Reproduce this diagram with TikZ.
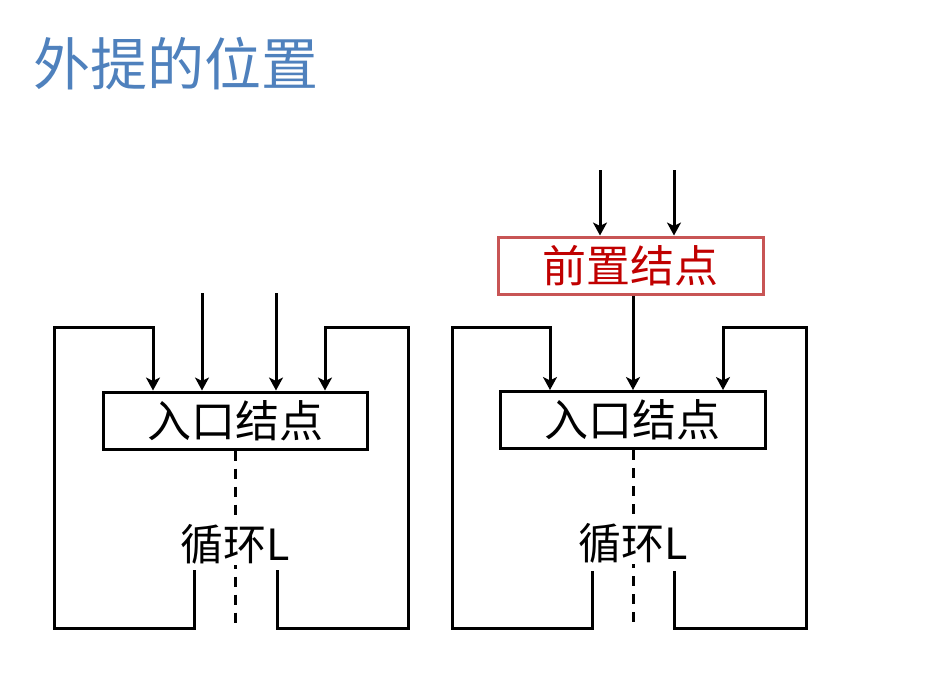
\documentclass[tikz,border=0pt]{standalone}
\usepackage{fontspec}
\newfontfamily\cjk{Noto Sans CJK SC}
\usetikzlibrary{arrows.meta}
\definecolor{titleblue}{RGB}{79,129,189}
\definecolor{prered}{RGB}{200,85,85}
\definecolor{pretext}{RGB}{192,0,0}
\tikzset{
  wire/.style={line width=3pt},
  arr/.style={wire, -{Stealth[length=13pt,width=14pt,inset=3.5pt]}},
  nodebox/.style={draw, line width=3pt, inner sep=0pt, minimum width=264pt, minimum height=57pt,
    font=\cjk\fontsize{44}{44}\selectfont},
  looplabel/.style={fill=white, inner sep=1pt, font=\cjk\fontsize{43}{43}\selectfont},
  gap/.style={line width=3pt, dash pattern=on 10pt off 8pt}
}

\begin{document}
\begin{tikzpicture}[x=1pt,y=1pt]
    \useasboundingbox (0,0) rectangle (931,-698);

    % title
    \node[anchor=base west, inner sep=0pt, text=titleblue, font=\cjk\fontsize{57}{57}\selectfont]
      (title) at (33,-86) {外提的位置};

%   left: loop without preheader
    \node[nodebox] (entryA) at (235,-420.5) {入口结点};
    \coordinate (bottomA) at (235,-628);
    \draw[gap] (entryA.south) -- (bottomA);
    \node[looplabel] (loopA) at (235,-544) {循环L};
    \foreach \x/\i in {202/1,276/2}
    {
      \coordinate (topA\i) at (\x,-293);
      \draw[arr] (topA\i) -- (entryA.north -| topA\i);
    };
    \draw[arr] (194,-570) |- (54,-628) |- (153,-327) -- (entryA.north -| 153,0);
    \draw[arr] (277,-570) |- (408,-628) |- (325,-327) -- (entryA.north -| 325,0);

%   right: loop with preheader
    \node[nodebox, draw=prered, text=pretext, minimum width=265pt] (pre) at (630.5,-265.5) {前置结点};
    \node[nodebox, minimum width=265pt] (entryB) at (632.5,-420) {入口结点};
    \coordinate (bottomB) at (633,-628);
    \draw[gap] (entryB.south -| bottomB) -- (bottomB);
    \node[looplabel] (loopB) at (633,-543) {循环L};
    \foreach \x/\i in {600/1,674/2}
    {
      \coordinate (topB\i) at (\x,-170);
      \draw[arr] (topB\i) -- (pre.north -| topB\i);
    };
    \draw[arr] (pre.south -| bottomB) -- (entryB.north -| bottomB);
    \draw[arr] (592,-571) |- (452,-628) |- (550,-327) -- (entryB.north -| 550,0);
    \draw[arr] (674,-571) |- (806,-628) |- (723,-327) -- (entryB.north -| 723,0);

\end{tikzpicture}
\end{document}
